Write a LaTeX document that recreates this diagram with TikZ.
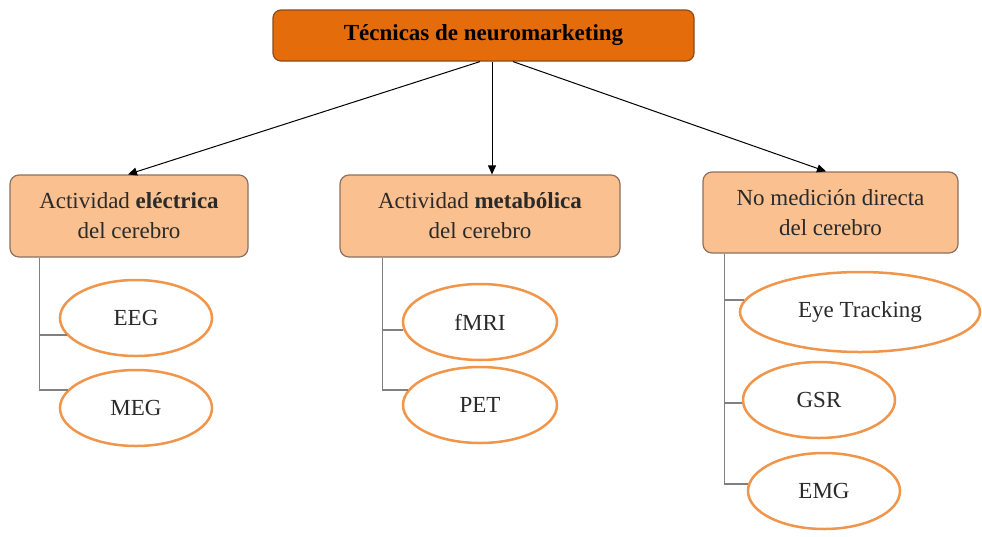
\documentclass[tikz,border=0pt]{standalone}
\usepackage{fontspec}
\setmainfont{Liberation Serif}
\usetikzlibrary{shapes.geometric,arrows.meta}
\definecolor{topfill}{HTML}{E46C0A}
\definecolor{topdraw}{HTML}{8A4A1A}
\definecolor{midfill}{HTML}{FAC08F}
\definecolor{middraw}{HTML}{8C7060}
\definecolor{ellcol}{HTML}{F0954A}
\definecolor{trunkcol}{HTML}{808080}
\definecolor{txt}{HTML}{2A2A2A}
\begin{document}
\begin{tikzpicture}[x=1pt,y=-1pt,
  txtfont/.style={font=\fontsize{23}{30}\selectfont, text=txt, align=center},
  topbox/.style={txtfont, text=black, draw=topdraw, fill=topfill, line width=1.2pt, rounded corners=8pt, minimum width=421pt, minimum height=51pt, inner sep=0pt},
  midbox/.style={txtfont, draw=middraw, fill=midfill, line width=1.2pt, rounded corners=9pt, minimum height=82pt, inner sep=0pt},
  leaf/.style={txtfont, ellipse, draw=ellcol, line width=2.5pt, fill=white, minimum width=152pt, minimum height=76pt, inner sep=0pt},
  arr/.style={-{Triangle[length=9pt,width=8pt]}, line width=1pt, black},
  trunk/.style={draw=trunkcol, line width=1.8pt}
]
\useasboundingbox (0,0) rectangle (982,536);
\node[topbox] (top) at (483.5,35.5) {\textbf{Técnicas de neuromarketing}};
\node[midbox, minimum width=238pt] (L) at (129,216) {Actividad \textbf{eléctrica}\\del cerebro};
\node[midbox, minimum width=280pt] (M) at (480,216) {Actividad \textbf{metabólica}\\del cerebro};
\node[midbox, minimum width=255pt, minimum height=81pt] (R) at (830.5,212.5) {No medición directa\\del cerebro};

\node[leaf] (eeg) at (136,318) {EEG};
\node[leaf] (meg) at (136,408) {MEG};
\node[leaf, minimum width=154pt] (fmri) at (480,322) {fMRI};
\node[leaf, minimum width=154pt] (pet) at (480,405) {PET};
\node[leaf, minimum width=240pt, minimum height=80pt] (eye) at (860,312) {Eye Tracking};
\node[leaf] (gsr) at (819,400) {GSR};
\node[leaf] (emg) at (824,491) {EMG};

\draw[arr] ([xshift=-3.5pt]top.south) -- ([xshift=-1pt]L.north);
\draw[arr] ([xshift=8.5pt]top.south) -- ([xshift=12pt]M.north);
\draw[arr] ([xshift=29.5pt]top.south) -- ([xshift=-4.5pt]R.north);

\draw[trunk] ([xshift=30pt]L.south west) |- (eeg.194);
\draw[trunk] ([xshift=30pt]L.south west) |- (meg.165);
\draw[trunk] ([xshift=43pt]M.south west) |- (fmri.186);
\draw[trunk] ([xshift=43pt]M.south west) |- (pet.168);
\draw[trunk] ([xshift=22pt]R.south west) |- (eye.174);
\draw[trunk] ([xshift=22pt]R.south west) |- (gsr.182);
\draw[trunk] ([xshift=22pt]R.south west) |- (emg.175);
\end{tikzpicture}
\end{document}
